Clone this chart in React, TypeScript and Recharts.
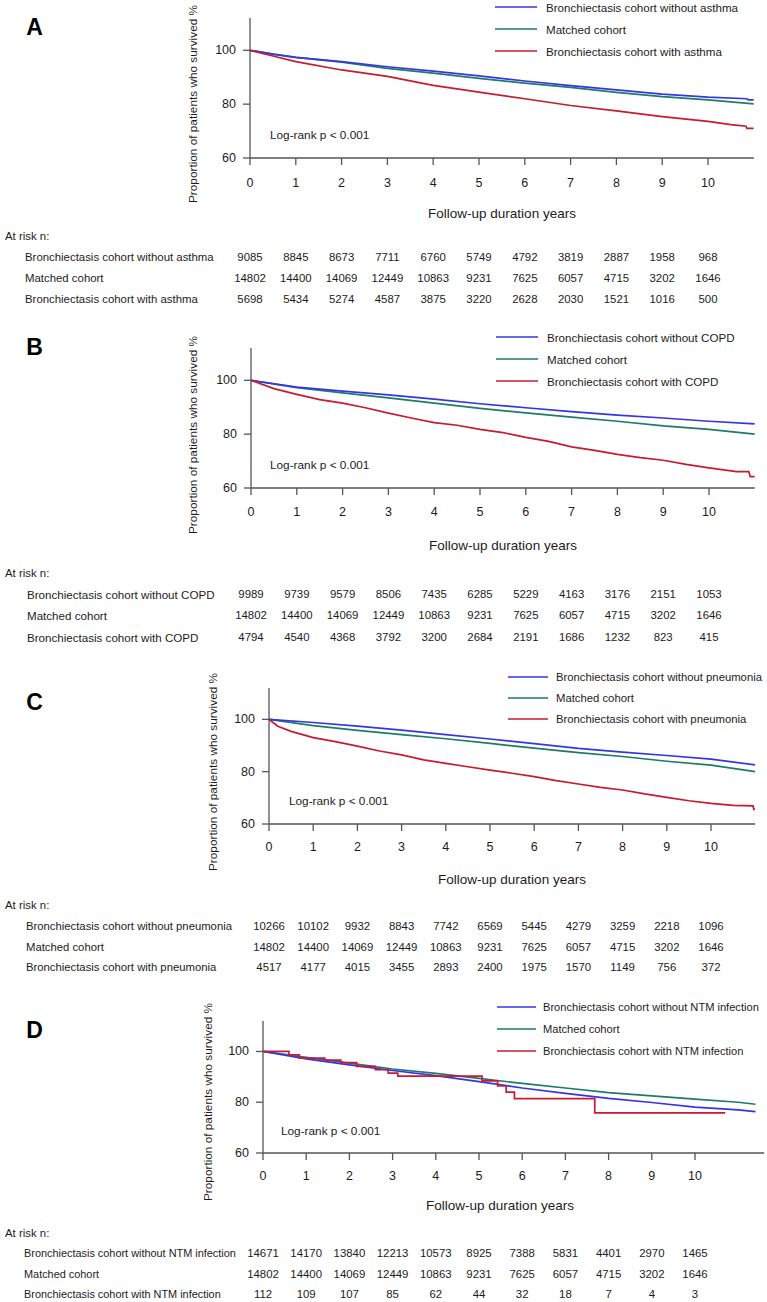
import React from 'react';
import { LineChart, Line, XAxis, YAxis } from 'recharts';

const W = 767;
const H = 1302;
const FONT = '"Liberation Sans", Arial, Helvetica, sans-serif';

const BLUE = '#3535e6';
const GREEN = '#1e7b68';
const RED = '#c91a32';
const AXIS = '#555555';
const INK = '#1c1c1c';

const YEAR_TICKS = [0, 1, 2, 3, 4, 5, 6, 7, 8, 9, 10];
const SURV_TICKS = [60, 80, 100];
const X_TITLE = 'Follow-up duration years';
const Y_TITLE = 'Proportion of patients who survived %';
const LOG_RANK = 'Log-rank p < 0.001';
const AT_RISK = 'At risk n:';
const MATCHED = 'Matched cohort';

// [years, survival %]
type Pt = [number, number];

// ---- A: asthma
const A_WITHOUT: Pt[] = [[0, 100], [0.5, 98.6], [1, 97.4], [2, 95.8], [3, 93.9], [4, 92.3], [5, 90.5], [6, 88.6], [7, 86.9], [8, 85.3], [9, 83.7], [10, 82.6], [10.85, 82.0], [10.88, 81.6], [11, 81.6]];
const A_MATCHED: Pt[] = [[0, 100], [0.5, 98.6], [1, 97.4], [2, 95.6], [3, 93.3], [4, 91.5], [5, 89.6], [6, 87.8], [7, 86.2], [8, 84.4], [9, 82.8], [10, 81.6], [11, 80.1]];
const A_WITH: Pt[] = [[0, 100], [0.5, 97.9], [1, 95.8], [2, 92.7], [3, 90.3], [4, 87.0], [5, 84.5], [6, 82.0], [7, 79.5], [8, 77.5], [9, 75.4], [10, 73.6], [10.5, 72.4], [10.83, 71.8], [10.85, 71.0], [11, 71.0]];
const A_RISK_WITHOUT = [9085, 8845, 8673, 7711, 6760, 5749, 4792, 3819, 2887, 1958, 968];
const A_RISK_WITH = [5698, 5434, 5274, 4587, 3875, 3220, 2628, 2030, 1521, 1016, 500];

// ---- B: COPD
const B_WITHOUT: Pt[] = [[0, 100], [1, 97.5], [2, 96.0], [3, 94.6], [4, 93.0], [5, 91.3], [6, 89.8], [7, 88.4], [8, 87.1], [9, 86.0], [10, 84.8], [11, 83.8]];
const B_MATCHED: Pt[] = [[0, 100], [1, 97.3], [2, 95.3], [3, 93.5], [4, 91.5], [5, 89.6], [6, 87.9], [7, 86.3], [8, 84.8], [9, 83.1], [10, 81.8], [11, 80.0]];
const B_WITH: Pt[] = [[0, 100], [0.5, 96.9], [1, 94.8], [1.5, 92.8], [2, 91.5], [2.5, 89.8], [3, 87.8], [3.5, 86.0], [4, 84.3], [4.5, 83.3], [5, 81.8], [5.5, 80.6], [6, 78.8], [6.5, 77.3], [7, 75.3], [7.5, 74.0], [8, 72.5], [8.5, 71.3], [9, 70.3], [9.5, 68.8], [10, 67.5], [10.6, 66.1], [10.87, 66.1], [10.9, 64.2], [11, 64.2]];
const B_RISK_WITHOUT = [9989, 9739, 9579, 8506, 7435, 6285, 5229, 4163, 3176, 2151, 1053];
const B_RISK_WITH = [4794, 4540, 4368, 3792, 3200, 2684, 2191, 1686, 1232, 823, 415];

// ---- C: pneumonia
const C_WITHOUT: Pt[] = [[0, 100], [1, 98.8], [2, 97.4], [3, 95.9], [4, 94.2], [5, 92.5], [6, 90.7], [7, 88.9], [8, 87.5], [9, 86.2], [10, 84.8], [11, 82.6]];
const C_MATCHED: Pt[] = [[0, 100], [1, 97.6], [2, 95.8], [3, 94.2], [4, 92.6], [5, 90.8], [6, 89.0], [7, 87.3], [8, 85.8], [9, 84.0], [10, 82.5], [11, 80.0]];
const C_WITH: Pt[] = [[0, 100], [0.2, 97.4], [0.5, 95.4], [1, 93.0], [1.5, 91.5], [2, 89.8], [2.5, 87.9], [3, 86.4], [3.5, 84.5], [4, 83.2], [4.5, 81.9], [5, 80.6], [5.5, 79.4], [6, 78.1], [6.5, 76.6], [7, 75.3], [7.5, 74.0], [8, 73.0], [8.5, 71.5], [9, 70.2], [9.5, 68.9], [10, 67.9], [10.5, 67.1], [10.95, 66.9], [10.97, 65.6], [11, 65.6]];
const C_RISK_WITHOUT = [10266, 10102, 9932, 8843, 7742, 6569, 5445, 4279, 3259, 2218, 1096];
const C_RISK_WITH = [4517, 4177, 4015, 3455, 2893, 2400, 1975, 1570, 1149, 756, 372];

// ---- D: NTM infection
const D_WITHOUT: Pt[] = [[0, 100], [1, 97.1], [2, 94.7], [3, 92.5], [4, 90.5], [5, 88.1], [6, 85.6], [7, 83.5], [8, 81.5], [9, 79.9], [10, 78.1], [11, 77.0], [11.4, 76.3]];
const D_MATCHED: Pt[] = [[0, 100], [1, 97.7], [2, 95.4], [3, 93.1], [4, 91.4], [5, 89.4], [6, 87.4], [7, 85.6], [8, 83.8], [9, 82.5], [10, 81.2], [11, 80.0], [11.4, 79.2]];
const D_WITH: Pt[] = [[0, 100], [0.6, 98.7], [0.84, 97.4], [1.43, 96.6], [1.8, 95.6], [2.17, 94.1], [2.6, 92.8], [2.9, 91.5], [3.12, 90.3], [5.07, 88.4], [5.43, 86.4], [5.63, 84.0], [5.82, 81.4], [7.68, 75.8], [10.7, 75.8]];
const D_RISK_WITHOUT = [14671, 14170, 13840, 12213, 10573, 8925, 7388, 5831, 4401, 2970, 1465];
const D_RISK_WITH = [112, 109, 107, 85, 62, 44, 32, 18, 7, 4, 3];

const RISK_MATCHED = [14802, 14400, 14069, 12449, 10863, 9231, 7625, 6057, 4715, 3202, 1646];

interface Geo {
  x0: number; ppu: number; xMax: number; yTop: number; y60: number;
  tickY: number; xTitle: [number, number]; riskTitleY: number; rows: number[]; rowX: number;
  letterY: number; legendY: number[]; legendLine: [number, number]; legendX: number;
  logRank: [number, number]; yTitle: [number, number];
  legendFont: number; tableFont: number;
}

interface PanelDef {
  letter: string;
  names: string[]; // without, matched, with
  series: Pt[][];
  risk: number[][];
  redStep: boolean;
  geo: Geo;
}

const PANELS: PanelDef[] = [
  {
    letter: 'A',
    names: ['Bronchiectasis cohort without asthma', MATCHED, 'Bronchiectasis cohort with asthma'],
    series: [A_WITHOUT, A_MATCHED, A_WITH],
    risk: [A_RISK_WITHOUT, RISK_MATCHED, A_RISK_WITH],
    redStep: false,
    geo: {
      x0: 250, ppu: 45.8, xMax: 11, yTop: 18, y60: 158, tickY: 183, xTitle: [502, 213],
      riskTitleY: 236, rows: [257, 278, 299], rowX: 25, letterY: 27,
      legendY: [7, 29, 51], legendLine: [495, 537], legendX: 546, logRank: [270, 135], yTitle: [193, 104],
      legendFont: 11.6, tableFont: 11.4,
    },
  },
  {
    letter: 'B',
    names: ['Bronchiectasis cohort without COPD', MATCHED, 'Bronchiectasis cohort with COPD'],
    series: [B_WITHOUT, B_MATCHED, B_WITH],
    risk: [B_RISK_WITHOUT, RISK_MATCHED, B_RISK_WITH],
    redStep: false,
    geo: {
      x0: 251, ppu: 45.8, xMax: 11, yTop: 348, y60: 488, tickY: 512, xTitle: [503, 545],
      riskTitleY: 573, rows: [594, 615, 637], rowX: 27, letterY: 347,
      legendY: [337, 359, 381], legendLine: [496, 538], legendX: 547, logRank: [270, 465], yTitle: [193, 435],
      legendFont: 11.6, tableFont: 11.6,
    },
  },
  {
    letter: 'C',
    names: ['Bronchiectasis cohort without pneumonia', MATCHED, 'Bronchiectasis cohort with pneumonia'],
    series: [C_WITHOUT, C_MATCHED, C_WITH],
    risk: [C_RISK_WITHOUT, RISK_MATCHED, C_RISK_WITH],
    redStep: false,
    geo: {
      x0: 269, ppu: 44.2, xMax: 11, yTop: 688, y60: 824, tickY: 847, xTitle: [512, 879],
      riskTitleY: 905, rows: [926, 947, 967], rowX: 26, letterY: 702,
      legendY: [677, 698, 719], legendLine: [508, 548], legendX: 556, logRank: [289, 801], yTitle: [213, 772],
      legendFont: 11.3, tableFont: 11.3,
    },
  },
  {
    letter: 'D',
    names: ['Bronchiectasis cohort without NTM infection', MATCHED, 'Bronchiectasis cohort with NTM infection'],
    series: [D_WITHOUT, D_MATCHED, D_WITH],
    risk: [D_RISK_WITHOUT, RISK_MATCHED, D_RISK_WITH],
    redStep: true,
    geo: {
      x0: 263, ppu: 43.2, xMax: 11.6, yTop: 1021, y60: 1153, tickY: 1176, xTitle: [500, 1205],
      riskTitleY: 1233, rows: [1253, 1274, 1294], rowX: 24, letterY: 1030,
      legendY: [1007, 1029, 1051], legendLine: [497, 536], legendX: 543, logRank: [281, 1131], yTitle: [208, 1102],
      legendFont: 11.1, tableFont: 10.9,
    },
  },
];

const COLORS = [BLUE, GREEN, RED];

const toRows = (pts: Pt[]) => pts.map(([t, s]) => ({ t, s }));

const KMPanel = ({ p }: { p: PanelDef }) => {
  const g = p.geo;
  const top = g.yTop - 6;
  const height = g.rows[2] + 14 - top;
  const plotRight = g.x0 + g.xMax * g.ppu;

  // year label + the three at-risk counts, all hung off the x scale
  const XTick = (props: any) => {
    const { x, payload } = props;
    const i = payload.value as number;
    return (
      <g fontFamily={FONT}>
        <text x={x} y={g.tickY - top} textAnchor="middle" dominantBaseline="central" fontSize={12.5} fill={INK}>{i}</text>
        {p.risk.map((row, k) => (
          <text key={k} x={x} y={g.rows[k] - top} textAnchor="middle" dominantBaseline="central" fontSize={11.4} fill={INK}>
            {row[i]}
          </text>
        ))}
      </g>
    );
  };

  const YTick = (props: any) => (
    <text x={props.x} y={props.y} textAnchor="end" dominantBaseline="central" fontSize={12.5} fill={INK} fontFamily={FONT}>
      {props.payload.value}
    </text>
  );

  // draw order: matched, without, with
  const order = [1, 0, 2];

  return (
    <div style={{ position: 'absolute', left: 0, top }}>
      <LineChart width={W} height={height} margin={{ top: 6, right: W - plotRight, bottom: 0, left: 0 }}>
        <XAxis
          type="number"
          dataKey="t"
          domain={[0, g.xMax]}
          ticks={YEAR_TICKS}
          interval={0}
          allowDataOverflow
          height={height - 6 - (g.y60 - g.yTop)}
          tickSize={7}
          tickMargin={0}
          axisLine={{ stroke: AXIS, strokeWidth: 1.3 }}
          tickLine={{ stroke: AXIS, strokeWidth: 1.3 }}
          tick={XTick}
        />
        <YAxis
          type="number"
          dataKey="s"
          domain={[60, 112]}
          ticks={SURV_TICKS}
          interval={0}
          allowDataOverflow
          width={g.x0}
          tickSize={7}
          tickMargin={7}
          axisLine={{ stroke: AXIS, strokeWidth: 1.3 }}
          tickLine={{ stroke: AXIS, strokeWidth: 1.3 }}
          tick={YTick}
        />
        {order.map((k) => (
          <Line
            key={k}
            data={toRows(p.series[k])}
            dataKey="s"
            type={k === 2 && p.redStep ? 'stepAfter' : 'linear'}
            stroke={COLORS[k]}
            strokeWidth={1.7}
            dot={false}
            activeDot={false}
            isAnimationActive={false}
          />
        ))}
      </LineChart>
    </div>
  );
};

const Labels = () => (
  <svg width={W} height={H} style={{ position: 'absolute', left: 0, top: 0, pointerEvents: 'none' }} fontFamily={FONT}>
    {PANELS.map((p) => {
      const g = p.geo;
      return (
        <g key={p.letter} fill={INK}>
          <text x={34.5} y={g.letterY} textAnchor="middle" dominantBaseline="central" fontSize={23} fontWeight="bold" fill="#000">
            {p.letter}
          </text>
          {p.names.map((name, k) => (
            <g key={k}>
              <line x1={g.legendLine[0]} x2={g.legendLine[1]} y1={g.legendY[k]} y2={g.legendY[k]} stroke={COLORS[k]} strokeWidth={1.6} />
              <text x={g.legendX} y={g.legendY[k]} dominantBaseline="central" fontSize={g.legendFont}>{name}</text>
            </g>
          ))}
          <text
            x={g.yTitle[0]}
            y={g.yTitle[1]}
            transform={`rotate(-90 ${g.yTitle[0]} ${g.yTitle[1]})`}
            textAnchor="middle"
            dominantBaseline="central"
            fontSize={11.8}
          >
            {Y_TITLE}
          </text>
          <text x={g.logRank[0]} y={g.logRank[1]} dominantBaseline="central" fontSize={11.8}>{LOG_RANK}</text>
          <text x={g.xTitle[0]} y={g.xTitle[1]} textAnchor="middle" dominantBaseline="central" fontSize={13.5}>{X_TITLE}</text>
          <text x={5} y={g.riskTitleY} dominantBaseline="central" fontSize={11.4}>{AT_RISK}</text>
          {p.names.map((name, k) => (
            <text key={k} x={g.rowX} y={g.rows[k]} dominantBaseline="central" fontSize={g.tableFont}>{name}</text>
          ))}
        </g>
      );
    })}
  </svg>
);

export default function App() {
  return (
    <div style={{ position: 'absolute', left: 0, top: 0, width: W, height: H, background: '#fff', overflow: 'hidden' }}>
      {PANELS.map((p) => (
        <KMPanel key={p.letter} p={p} />
      ))}
      <Labels />
    </div>
  );
}
